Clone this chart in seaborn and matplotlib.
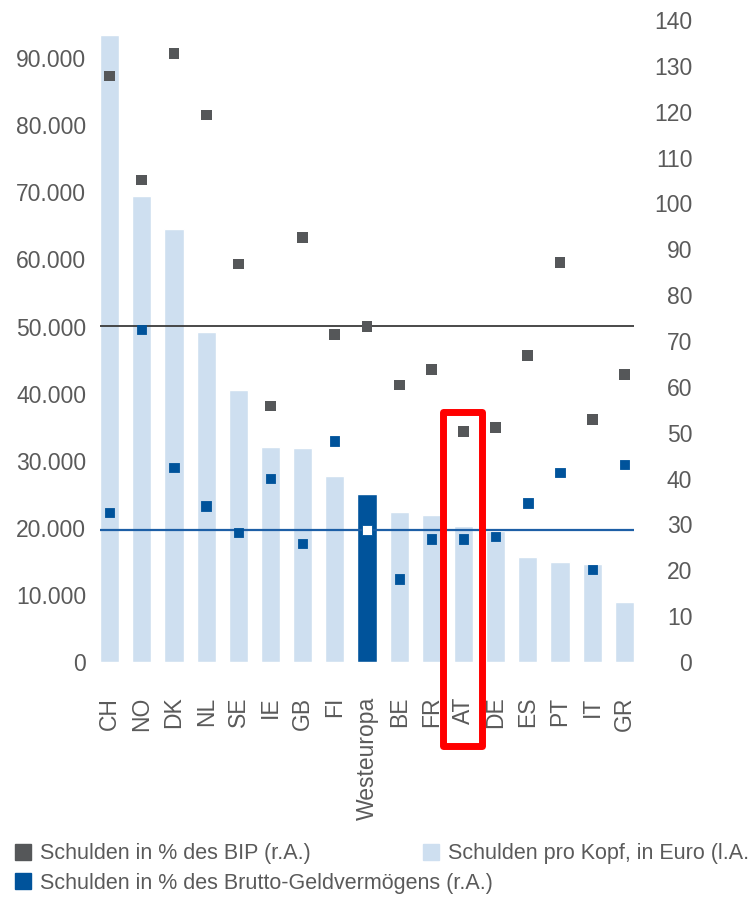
import numpy as np
import pandas as pd
import matplotlib.pyplot as plt
import seaborn as sns
from matplotlib.lines import Line2D
from matplotlib.patches import Rectangle
from matplotlib.ticker import FuncFormatter, MultipleLocator

# Daten
laender = ['CH', 'NO', 'DK', 'NL', 'SE', 'IE', 'GB', 'FI', 'Westeuropa',
           'BE', 'FR', 'AT', 'DE', 'ES', 'PT', 'IT', 'GR']
pro_kopf = [93400, 69400, 64600, 49200, 40500, 32100, 31900, 27700, 25000,
            22400, 21900, 20300, 19600, 15600, 14900, 14600, 9000]
bip = [127.8, 105.1, 132.7, 119.3, 86.8, 55.8, 92.6, 71.5, 73.2,
       60.4, 63.8, 50.2, 51.2, 66.9, 87.2, 52.8, 62.7]
brutto = [32.6, 72.5, 42.4, 34.0, 28.2, 40.0, 25.9, 48.2, 28.8,
          18.1, 26.8, 26.8, 27.3, 34.7, 41.3, 20.1, 43.0]
markiert = 'AT'
gesamt = 'Westeuropa'

hellblau = '#cedff0'
dunkelblau = '#00539b'
grau = '#555759'
textfarbe = '#5a5a5a'

sns.set_style('white')
plt.rcParams['font.family'] = ['Liberation Sans', 'DejaVu Sans']

df = pd.DataFrame({'land': laender, 'pro_kopf': pro_kopf, 'bip': bip, 'brutto': brutto})
iw = laender.index(gesamt)

fig = plt.figure(figsize=(7.49, 9), dpi=100)
ax1 = fig.add_axes([100 / 749, 1 - 662 / 900, 534 / 749, 642 / 900])

# Balken: Schulden pro Kopf (linke Achse)
balken_farben = {l: (dunkelblau if l == gesamt else hellblau) for l in laender}
sns.barplot(data=df, x='land', y='pro_kopf', hue='land', palette=balken_farben,
            width=0.6, saturation=1, legend=False, ax=ax1)
ax1.set_ylim(0, 95700)
ax1.set_xlim(-0.3, len(laender) - 0.7)
ax1.yaxis.set_major_locator(MultipleLocator(10000))
ax1.yaxis.set_major_formatter(FuncFormatter(lambda v, p: f'{v:,.0f}'.replace(',', '.')))

ax2 = ax1.twinx()
ax2.set_ylim(0, 140)
ax2.yaxis.set_major_locator(MultipleLocator(10))

# Referenzlinien auf Höhe von Westeuropa
ax2.axhline(bip[iw], color='#3a3a3a', lw=1.3, zorder=1)
ax2.axhline(brutto[iw], color='#1d5fa6', lw=1.6, zorder=1)

# Punkte: Schulden in % des BIP und des Brutto-Geldvermögens (rechte Achse)
sns.scatterplot(data=df, x='land', y='bip', marker='s', s=60, color=grau,
                edgecolor='none', ax=ax2, zorder=3)
brutto_farben = {l: ('white' if l == gesamt else dunkelblau) for l in laender}
sns.scatterplot(data=df, x='land', y='brutto', hue='land', palette=brutto_farben,
                marker='s', s=45, edgecolor=dunkelblau, linewidth=0.6,
                legend=False, ax=ax2, zorder=3)
ax2.set_xlim(-0.3, len(laender) - 0.7)

for ax in (ax1, ax2):
    ax.set_xlabel('')
    ax.set_ylabel('')
    for s in ax.spines.values():
        s.set_visible(False)
    ax.grid(False)

ax1.tick_params(axis='y', length=0, pad=10, labelsize=16.5, labelcolor=textfarbe)
ax1.tick_params(axis='x', length=0, pad=25, labelsize=16.5, labelcolor=textfarbe,
                labelrotation=90)
ax2.tick_params(axis='y', length=0, pad=42, labelsize=16.5, labelcolor=textfarbe)
for lbl in ax2.get_yticklabels():
    lbl.set_ha('right')
ax2.tick_params(axis='x', length=0, labelbottom=False)

# rote Markierung um AT
ia = laender.index(markiert)
ax2.add_patch(Rectangle((ia - 0.65, -18.4), 1.22, 54.6 + 18.4, fill=False,
                        edgecolor='#ff0000', lw=5, joinstyle='round',
                        clip_on=False, zorder=5))

# Legende
def eintrag(farbe, text, x, y):
    h = Line2D([], [], marker='s', ls='none', color=farbe, markersize=11)
    fig.legend([h], [text], loc='center left', bbox_to_anchor=(x / 749, 1 - y / 900),
               frameon=False, fontsize=15.5, handlelength=0.8, handletextpad=0.4,
               borderpad=0, borderaxespad=0, labelcolor=textfarbe)

eintrag(grau, 'Schulden in % des BIP (r.A.)', 14, 854)
eintrag(hellblau, 'Schulden pro Kopf, in Euro (l.A.)', 422, 854)
eintrag(dunkelblau, 'Schulden in % des Brutto-Geldvermögens (r.A.)', 14, 883)

fig.savefig('out.png', dpi=100)
